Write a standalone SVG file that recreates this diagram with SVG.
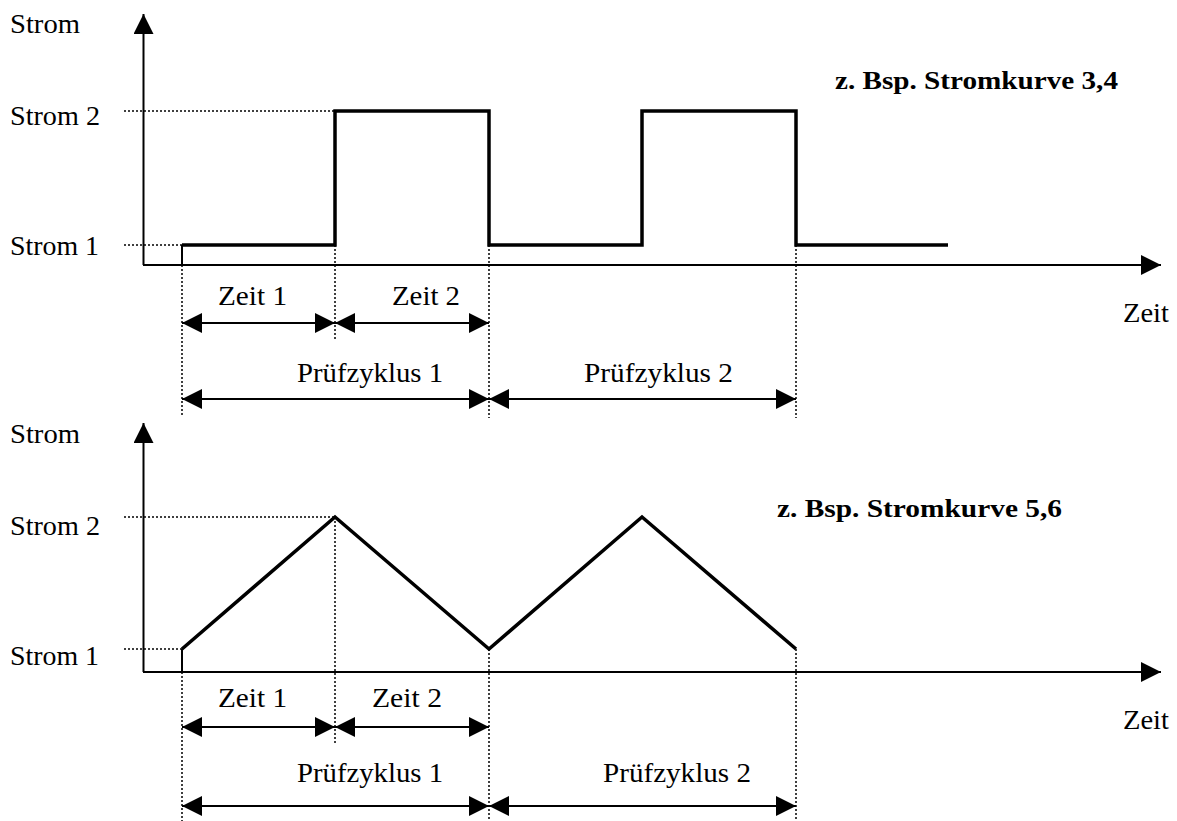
<svg xmlns="http://www.w3.org/2000/svg" width="1177" height="821" viewBox="0 0 1177 821">
<defs>
<style>
.t{font-family:"Liberation Serif","Times New Roman",serif;font-size:28px;fill:#000}
.b{font-family:"Liberation Serif","Times New Roman",serif;font-size:26px;font-weight:bold;fill:#000}
.cv{stroke:#000;stroke-width:3.5;fill:none;stroke-linejoin:miter}
.thin{stroke:#000;stroke-width:2;fill:none}
.dot{stroke:#000;stroke-width:1.5;stroke-dasharray:2 2;fill:none}
.dim{stroke:#000;stroke-width:2;fill:none;marker-start:url(#ah);marker-end:url(#ah)}
.axa{stroke:#000;stroke-width:2;fill:none;marker-end:url(#ah)}
</style>
<marker id="ah" viewBox="0 0 20 20" refX="20" refY="10" markerWidth="20" markerHeight="20" markerUnits="userSpaceOnUse" orient="auto-start-reverse">
<path d="M0,0 L20,10 L0,20 Z" fill="#000"/>
</marker>
</defs>
<rect width="1177" height="821" fill="#fff"/>

<g id="top-chart">
<g id="top-axes">
<line class="axa" x1="143.5" y1="265" x2="143.5" y2="14"/>
<line class="axa" x1="143" y1="265" x2="1161" y2="265"/>
</g>
<g id="top-labels">
<text class="t" x="10" y="33" textLength="70" lengthAdjust="spacingAndGlyphs">Strom</text>
<text class="t" x="10" y="125" textLength="90" lengthAdjust="spacingAndGlyphs">Strom 2</text>
<text class="t" x="10" y="255" textLength="89" lengthAdjust="spacingAndGlyphs">Strom 1</text>
<text class="t" x="1123" y="322" textLength="46" lengthAdjust="spacingAndGlyphs">Zeit</text>
<text class="b" x="835" y="89" textLength="283" lengthAdjust="spacingAndGlyphs">z. Bsp. Stromkurve 3,4</text>
</g>
<g id="top-curve">
<line class="thin" x1="182" y1="265" x2="182" y2="245"/>
<polyline class="cv" points="182,245 335,245 335,111 489,111 489,245 642,245 642,111 796,111 796,245 948,245"/>
</g>
</g>

<g id="bottom-chart">
<g id="bottom-axes">
<line class="axa" x1="143.5" y1="672" x2="143.5" y2="423"/>
<line class="axa" x1="143" y1="672" x2="1161" y2="672"/>
</g>
<g id="bottom-labels">
<text class="t" x="10" y="443" textLength="70" lengthAdjust="spacingAndGlyphs">Strom</text>
<text class="t" x="10" y="535" textLength="90" lengthAdjust="spacingAndGlyphs">Strom 2</text>
<text class="t" x="10" y="665" textLength="89" lengthAdjust="spacingAndGlyphs">Strom 1</text>
<text class="t" x="1123" y="729" textLength="46" lengthAdjust="spacingAndGlyphs">Zeit</text>
<text class="b" x="777" y="517" textLength="285" lengthAdjust="spacingAndGlyphs">z. Bsp. Stromkurve 5,6</text>
</g>
<g id="bottom-curve">
<line class="thin" x1="182" y1="672" x2="182" y2="649"/>
<polyline class="cv" points="182,649 335,517 489,649 642,517 796,649"/>
</g>
</g>

<g id="guides">
<line class="dot" x1="124" y1="111" x2="335" y2="111"/>
<line class="dot" x1="124" y1="245" x2="182" y2="245"/>
<line class="dot" x1="182" y1="265" x2="182" y2="417"/>
<line class="dot" x1="335" y1="245" x2="335" y2="340"/>
<line class="dot" x1="489" y1="245" x2="489" y2="418"/>
<line class="dot" x1="796" y1="245" x2="796" y2="418"/>
<line class="dot" x1="124" y1="517" x2="335" y2="517"/>
<line class="dot" x1="124" y1="649" x2="182" y2="649"/>
<line class="dot" x1="182" y1="672" x2="182" y2="821"/>
<line class="dot" x1="335" y1="517" x2="335" y2="743"/>
<line class="dot" x1="489" y1="649" x2="489" y2="821"/>
<line class="dot" x1="796" y1="649" x2="796" y2="821"/>
</g>

<g id="connectors">
<line class="dim" x1="182" y1="323" x2="335" y2="323"/>
<line class="dim" x1="335" y1="323" x2="489" y2="323"/>
<line class="dim" x1="182" y1="399" x2="489" y2="399"/>
<line class="dim" x1="489" y1="399" x2="796" y2="399"/>
<line class="dim" x1="182" y1="727" x2="335" y2="727"/>
<line class="dim" x1="335" y1="727" x2="489" y2="727"/>
<line class="dim" x1="182" y1="806" x2="489" y2="806"/>
<line class="dim" x1="489" y1="806" x2="796" y2="806"/>
</g>

<g id="dimension-labels">
<text class="t" x="218" y="305" textLength="69" lengthAdjust="spacingAndGlyphs">Zeit 1</text>
<text class="t" x="392" y="305" textLength="68" lengthAdjust="spacingAndGlyphs">Zeit 2</text>
<text class="t" x="297" y="382" textLength="146" lengthAdjust="spacingAndGlyphs">Prüfzyklus 1</text>
<text class="t" x="584" y="382" textLength="149" lengthAdjust="spacingAndGlyphs">Prüfzyklus 2</text>
<text class="t" x="218" y="707" textLength="69" lengthAdjust="spacingAndGlyphs">Zeit 1</text>
<text class="t" x="372" y="707" textLength="70" lengthAdjust="spacingAndGlyphs">Zeit 2</text>
<text class="t" x="297" y="782" textLength="146" lengthAdjust="spacingAndGlyphs">Prüfzyklus 1</text>
<text class="t" x="603" y="782" textLength="148" lengthAdjust="spacingAndGlyphs">Prüfzyklus 2</text>
</g>
</svg>
